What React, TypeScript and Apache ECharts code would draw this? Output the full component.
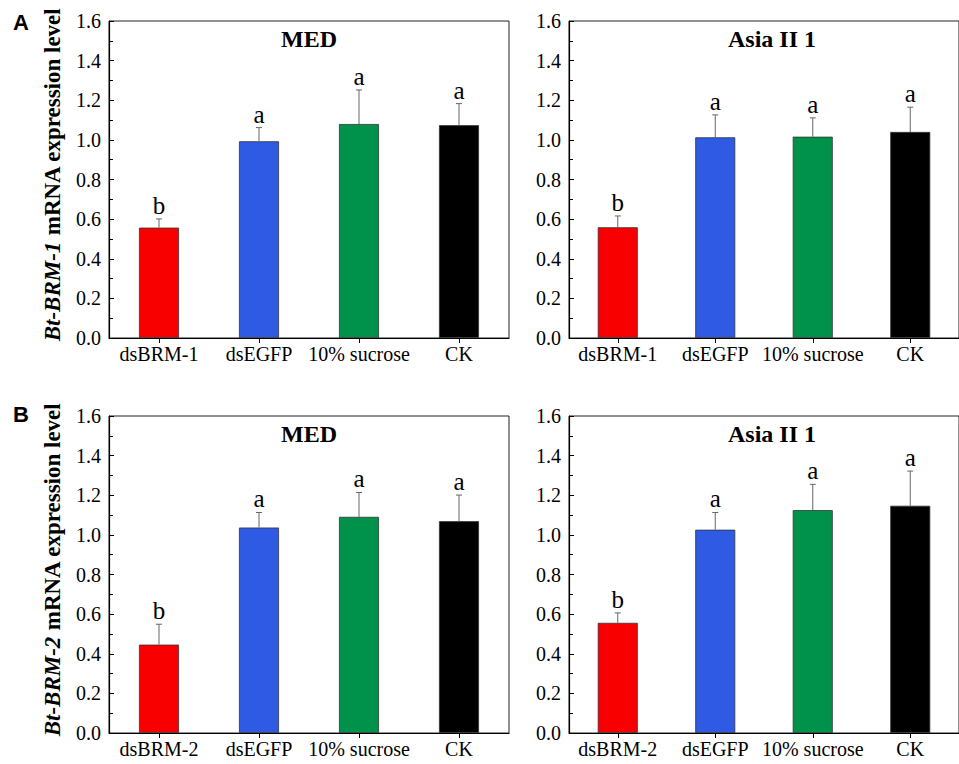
import React, { useEffect, useRef } from "react";
import * as echarts from "echarts";

const categoriesA = ["dsBRM-1", "dsEGFP", "10% sucrose", "CK"];
const categoriesB = ["dsBRM-2", "dsEGFP", "10% sucrose", "CK"];
const yTicks = [0, 0.2, 0.4, 0.6, 0.8, 1.0, 1.2, 1.4, 1.6];

const medA = [0.557, 0.993, 1.08, 1.074];
const medAErr = [0.044, 0.069, 0.172, 0.109];
const asiaA = [0.559, 1.013, 1.016, 1.04];
const asiaAErr = [0.057, 0.113, 0.095, 0.125];
const medB = [0.446, 1.037, 1.091, 1.069];
const medBErr = [0.103, 0.076, 0.123, 0.132];
const asiaB = [0.556, 1.026, 1.125, 1.147];
const asiaBErr = [0.05, 0.087, 0.13, 0.175];
const letters = ["b", "a", "a", "a"];

const barColors = ["#f80000", "#2e5ae4", "#00924a", "#000000"];
const panelTitles = ["MED", "Asia II 1", "MED", "Asia II 1"];

const SERIF = "'Liberation Serif', 'Times New Roman', Times, serif";

export default function App() {
  const ref = useRef<HTMLDivElement>(null);
  useEffect(() => {
    if (!ref.current) return;
    const chart = echarts.init(ref.current, undefined, { renderer: "svg" });

    const panels = [
      { cats: categoriesA, vals: medA, errs: medAErr, left: 109, top: 21, yName: "Bt-BRM-1" },
      { cats: categoriesA, vals: asiaA, errs: asiaAErr, left: 569, top: 21, yName: "" },
      { cats: categoriesB, vals: medB, errs: medBErr, left: 109, top: 416, yName: "Bt-BRM-2" },
      { cats: categoriesB, vals: asiaB, errs: asiaBErr, left: 569, top: 416, yName: "" },
    ];

    const grid = panels.map((p) => ({
      left: p.left,
      top: p.top,
      width: 400,
      height: 317,
      show: true,
      borderColor: "#222",
      borderWidth: 1,
      backgroundColor: "transparent",
    }));

    const xAxis = panels.map((p, i) => ({
      type: "category",
      gridIndex: i,
      data: p.cats,
      axisLine: { lineStyle: { color: "#000", width: 1.2 } },
      axisTick: { show: true, alignWithLabel: true, length: 5, lineStyle: { color: "#000" } },
      axisLabel: { color: "#000", fontFamily: SERIF, fontSize: 20, margin: 6, interval: 0 },
      splitLine: { show: false },
    }));

    const yAxis = panels.map((p, i) => ({
      type: "value",
      gridIndex: i,
      min: 0,
      max: 1.6,
      interval: 0.2,
      axisLine: { show: true, lineStyle: { color: "#000", width: 1.2 } },
      axisTick: { show: true, inside: true, length: 5, lineStyle: { color: "#000" } },
      minorTick: { show: true, splitNumber: 2, length: 4, lineStyle: { color: "#000" } },
      splitLine: { show: false },
      axisLabel: {
        color: "#000",
        fontFamily: SERIF,
        fontSize: 20,
        margin: 8,
        formatter: (v: number) => (yTicks.some((t) => Math.abs(t - v) < 1e-6) ? v.toFixed(1) : ""),
      },
      name: p.yName ? `{i|${p.yName}} mRNA expression level` : "",
      nameLocation: "middle",
      nameGap: 45,
      nameRotate: 90,
      nameTextStyle: {
        color: "#000",
        fontFamily: SERIF,
        fontSize: 23,
        fontWeight: "bold",
        padding: [0, 0, 0, 10],
        rich: {
          i: { fontFamily: SERIF, fontSize: 23, fontWeight: "bold", fontStyle: "italic", color: "#000" },
        },
      },
    }));

    const series: any[] = [];
    panels.forEach((p, i) => {
      series.push({
        type: "bar",
        xAxisIndex: i,
        yAxisIndex: i,
        barWidth: 40,
        data: p.vals.map((v, k) => ({
          value: v,
          itemStyle: { color: barColors[k], borderColor: "#333", borderWidth: 0.8 },
        })),
        z: 2,
      });
      series.push({
        type: "custom",
        xAxisIndex: i,
        yAxisIndex: i,
        z: 3,
        data: p.vals.map((v, k) => [k, v, v + p.errs[k]]),
        encode: { x: 0, y: 2 },
        renderItem: (params: any, api: any) => {
          const k = api.value(0);
          const base = api.coord([k, api.value(1)]);
          const top = api.coord([k, api.value(2)]);
          const capHalf = 3;
          return {
            type: "group",
            children: [
              {
                type: "line",
                shape: { x1: base[0], y1: base[1], x2: top[0], y2: top[1] },
                style: { stroke: "#666", lineWidth: 1 },
              },
              {
                type: "line",
                shape: { x1: top[0] - capHalf, y1: top[1], x2: top[0] + capHalf, y2: top[1] },
                style: { stroke: "#666", lineWidth: 1 },
              },
              {
                type: "text",
                x: top[0],
                y: top[1] - 1,
                style: {
                  text: letters[params.dataIndex],
                  fontFamily: SERIF,
                  fontSize: 25,
                  fill: "#000",
                  align: "center",
                  verticalAlign: "bottom",
                },
              },
            ],
          };
        },
      });
    });

    const graphic: any[] = panels.map((p, i) => ({
      type: "text",
      x: p.left + 200 + (i % 2 === 1 ? 3 : 0),
      y: p.top + 18,
      style: {
        text: panelTitles[i],
        fontFamily: SERIF,
        fontSize: 24,
        fontWeight: "bold",
        fill: "#000",
        align: "center",
        verticalAlign: "middle",
      },
    }));
    graphic.push(
      {
        type: "text",
        x: 21,
        y: 22,
        style: {
          text: "A",
          fontFamily: "'Liberation Sans', Arial, sans-serif",
          fontSize: 22,
          fontWeight: "bold",
          fill: "#000",
          align: "center",
          verticalAlign: "middle",
        },
      },
      {
        type: "text",
        x: 21,
        y: 414,
        style: {
          text: "B",
          fontFamily: "'Liberation Sans', Arial, sans-serif",
          fontSize: 22,
          fontWeight: "bold",
          fill: "#000",
          align: "center",
          verticalAlign: "middle",
        },
      }
    );

    chart.setOption({
      animation: false,
      backgroundColor: "#fff",
      grid,
      xAxis,
      yAxis,
      series,
      graphic,
    });
    return () => chart.dispose();
  }, []);

  return (
    <div
      ref={ref}
      style={{ position: "absolute", left: 0, top: 0, width: 959, height: 764 }}
    />
  );
}
